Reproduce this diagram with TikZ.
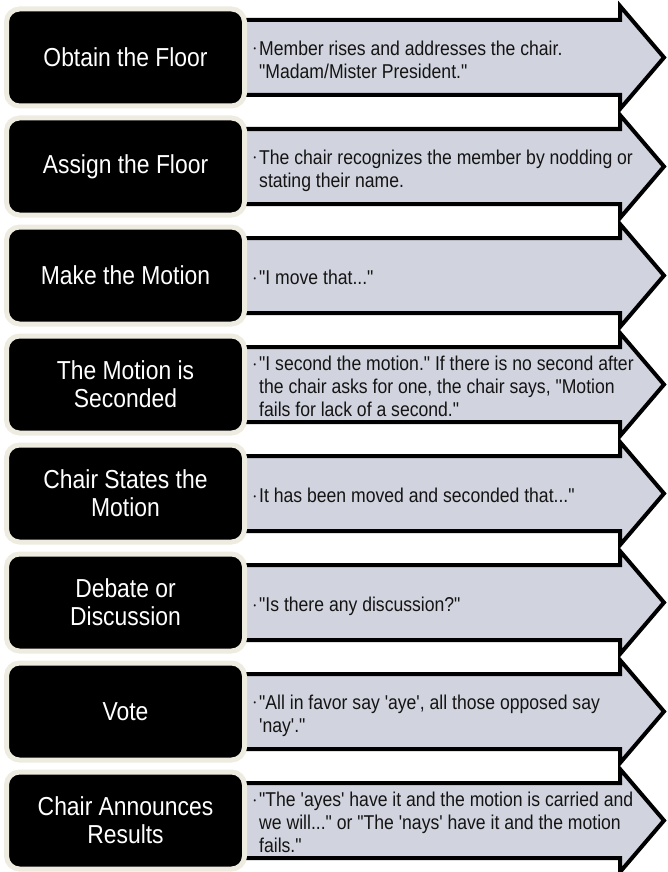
\documentclass[tikz,border=0pt]{standalone}
\usepackage{fontspec}
\newfontfamily\narrowsans{Liberation Sans}[FakeStretch=0.88]
\definecolor{arrowfill}{RGB}{209,212,222}
\definecolor{cream}{RGB}{238,236,225}
\begin{document}
\begin{tikzpicture}[x=1pt,y=-1pt,
  arrowbody/.style={draw=black, line width=4pt, fill=arrowfill, line join=miter},
  stepbox/.style={rounded corners=13pt, fill=black, draw=cream, line width=5pt,
    minimum width=238pt, minimum height=97pt, text=white, align=center,
    font=\narrowsans\fontsize{26}{28}\selectfont, inner sep=0pt},
  desc/.style={anchor=north west, align=left, inner sep=0pt, text=black!92,
    font=\narrowsans\fontsize{20}{23}\selectfont}]
\useasboundingbox (0,0) rectangle (668,872);
\newcommand{\bul}{\llap{\raisebox{3.5pt}{\fontsize{8}{8}\selectfont\textbullet}\hspace{3pt}}}
\foreach \i/\lab/\txt/\n in {
  0/{Obtain the Floor}/{Member rises and addresses the chair.\\"Madam/Mister President."}/2,
  1/{Assign the Floor}/{The chair recognizes the member by nodding or\\stating their name.}/2,
  2/{Make the Motion}/{"I move that..."}/1,
  3/{The Motion is\\Seconded}/{"I second the motion." If there is no second after\\the chair asks for one, the chair says, "Motion\\fails for lack of a second."}/3,
  4/{Chair States the\\Motion}/{It has been moved and seconded that..."}/1,
  5/{Debate or\\Discussion}/{"Is there any discussion?"}/1,
  6/{Vote}/{"All in favor say 'aye', all those opposed say\\'nay'."}/2,
  7/{Chair Announces\\Results}/{"The 'ayes' have it and the motion is carried and\\we will..." or "The 'nays' have it and the motion\\fails."}/3}
{
  \pgfmathsetmacro{\cy}{57.5+109*\i}
  \pgfmathsetmacro{\ty}{\cy+1.5-(14.3+23*(\n-1))/2}
  \draw[arrowbody] (230,\cy-37.5) -- (620,\cy-37.5) -- (620,\cy-51.5) -- (664,\cy)
    -- (620,\cy+51.5) -- (620,\cy+37.5) -- (230,\cy+37.5) -- cycle;
  \node[stepbox] (box\i) at (125.5,\cy) {\lab};
  \node[desc] (desc\i) at (259,\ty) {\bul\txt};
}
\end{tikzpicture}
\end{document}
